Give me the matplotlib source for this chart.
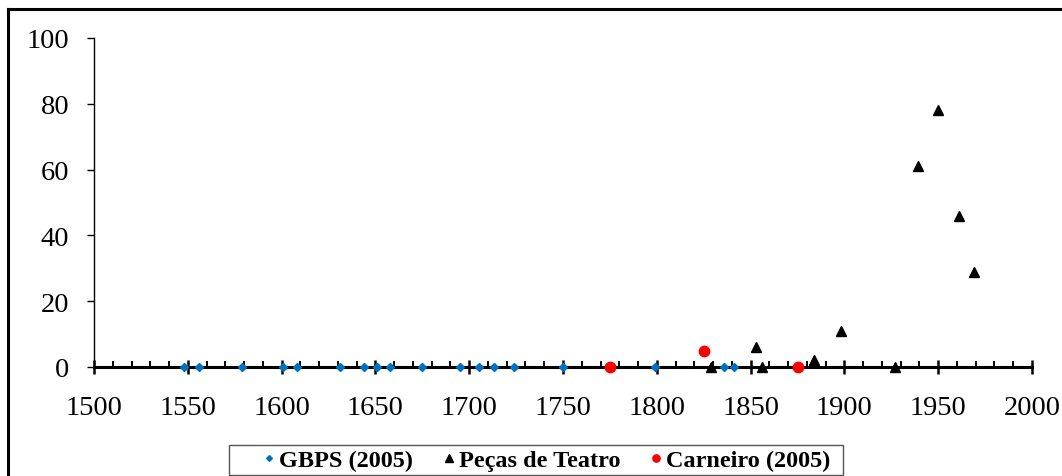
import matplotlib
matplotlib.use("Agg")
import matplotlib.pyplot as plt
from matplotlib.lines import Line2D
from matplotlib.patches import Rectangle
from matplotlib.ticker import MultipleLocator

plt.rcParams['font.family'] = ['Liberation Serif', 'DejaVu Serif']

gbps_years = [1548, 1556, 1579, 1601, 1608, 1631, 1644, 1651, 1658, 1675,
              1695, 1705, 1713, 1724, 1750, 1799, 1836, 1841]
gbps_vals = [0] * len(gbps_years)

teatro_years = [1829, 1853, 1856, 1884, 1898, 1927, 1939, 1950, 1961, 1969]
teatro_vals = [0, 6, 0, 2, 11, 0, 61, 78, 46, 29]

carneiro_years = [1775, 1825, 1875]
carneiro_vals = [0, 5, 0]

x_ticks = [1500, 1550, 1600, 1650, 1700, 1750, 1800, 1850, 1900, 1950, 2000]
y_ticks = [0, 20, 40, 60, 80, 100]

W, H = 1062, 477
fig = plt.figure(figsize=(W / 100, H / 100), dpi=100)
ax = fig.add_axes([94 / W, 1 - 368 / H, (1032 - 94) / W, (368 - 39) / H])

ax.plot(gbps_years, gbps_vals, linestyle='none', marker='D', markersize=4.2,
        color='#0070C0', label='GBPS (2005)', zorder=5, clip_on=False)
ax.plot(teatro_years, teatro_vals, linestyle='none', marker='^', markersize=7.3,
        color='black', label='Peças de Teatro', zorder=5, clip_on=False)
ax.plot(carneiro_years, carneiro_vals, linestyle='none', marker='o', markersize=7.5,
        color='#FF0000', label='Carneiro (2005)', zorder=5, clip_on=False)

ax.set_xlim(1500, 2000)
ax.set_ylim(0, 100)
ax.set_xticks(x_ticks)
ax.set_yticks(y_ticks)
ax.xaxis.set_minor_locator(MultipleLocator(10))

for s in ['top', 'right']:
    ax.spines[s].set_visible(False)
ax.spines['bottom'].set_linewidth(2.2)
ax.spines['left'].set_linewidth(1.0)
ax.spines['bottom'].set_zorder(3)

ax.tick_params(axis='x', which='major', direction='inout', length=10, width=1.8,
               pad=15, labelsize=20.5)
ax.tick_params(axis='x', which='minor', direction='in', length=4, width=1.4)
ax.tick_params(axis='y', which='major', direction='out', length=5, width=1.0,
               pad=13, labelsize=20.5)

leg = fig.legend(loc='center', bbox_to_anchor=(546 / W, 1 - 461 / H), ncol=3,
                 frameon=False, prop={'weight': 'bold', 'size': 17.5},
                 handlelength=0.6, handletextpad=0.12, columnspacing=1.15,
                 borderpad=0.2, markerscale=0.7)

# legend box
fig.add_artist(Rectangle((229 / W, 1 - 476 / H), (843 - 229) / W, 30 / H,
                         transform=fig.transFigure, fill=False,
                         edgecolor='#555555', linewidth=1.0))

# outer frame (top and left only visible)
fig.add_artist(Line2D([8 / W, 8 / W], [0, 1 - 10 / H], transform=fig.transFigure,
                      color='black', linewidth=2.2))
fig.add_artist(Line2D([8 / W, 1], [1 - 10 / H, 1 - 10 / H], transform=fig.transFigure,
                      color='black', linewidth=2.2))

fig.savefig('out.png', dpi=100)
